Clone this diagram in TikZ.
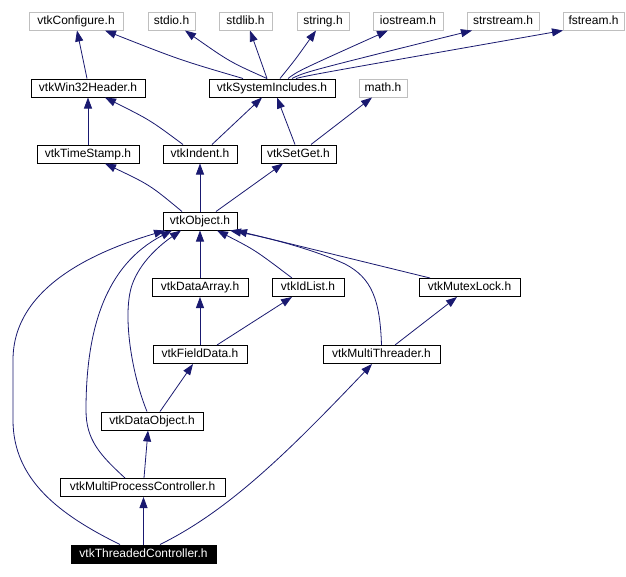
\documentclass[tikz,border=0pt]{standalone}
\usepackage{fontspec}
\setmainfont{Liberation Sans}
\usetikzlibrary{arrows.meta}
\definecolor{edgec}{HTML}{191970}
\definecolor{grayb}{HTML}{BFBFBF}
\tikzset{
 hdr/.style={draw=black, line width=1pt, fill=white, inner sep=0pt, font=\fontsize{12}{14}\selectfont, minimum height=18pt, text height=9pt, text depth=3pt},
 ext/.style={hdr, draw=grayb},
 cur/.style={hdr, fill=black, text=white},
 dep/.style={draw=edgec, line width=0.8pt, -{Triangle[length=11pt,width=8pt]}},
}
\begin{document}
\begin{tikzpicture}[x=1pt,y=-1pt]
\useasboundingbox[fill=white] (0,0) rectangle (626,576);
% nodes
\node[ext, minimum width=94pt] (conf) at (76,21) {vtkConfigure.h};
\node[ext, minimum width=47pt] (stdio) at (171.5,21) {stdio.h};
\node[ext, minimum width=53pt] (stdlib) at (245.5,21) {stdlib.h};
\node[ext, minimum width=52pt] (string) at (323,21) {string.h};
\node[ext, minimum width=70pt] (iostream) at (408,21) {iostream.h};
\node[ext, minimum width=72pt] (strstream) at (503,21) {strstream.h};
\node[ext, minimum width=61pt] (fstream) at (593.5,21) {fstream.h};
\node[hdr, minimum width=114pt] (win) at (88,88) {vtkWin32Header.h};
\node[hdr, minimum width=126pt] (sys) at (272,88) {vtkSystemIncludes.h};
\node[ext, minimum width=48pt] (math) at (383,88) {math.h};
\node[hdr, minimum width=102pt] (ts) at (88,154) {vtkTimeStamp.h};
\node[hdr, minimum width=74pt] (ind) at (200,154) {vtkIndent.h};
\node[hdr, minimum width=75pt] (sg) at (298.5,154) {vtkSetGet.h};
\node[hdr, minimum width=74pt] (obj) at (200,221) {vtkObject.h};
\node[hdr, minimum width=96pt] (da) at (200,287.5) {vtkDataArray.h};
\node[hdr, minimum width=72pt] (idl) at (308,287.5) {vtkIdList.h};
\node[hdr, minimum width=101pt] (mut) at (469.5,287.5) {vtkMutexLock.h};
\node[hdr, minimum width=94pt] (fd) at (200,354.5) {vtkFieldData.h};
\node[hdr, minimum width=117pt] (mt) at (381.5,354.5) {vtkMultiThreader.h};
\node[hdr, minimum width=102pt] (dob) at (152,421) {vtkDataObject.h};
\node[hdr, minimum width=165pt] (mpc) at (142.5,487.5) {vtkMultiProcessController.h};
\node[cur, minimum width=145pt] (tc) at (143.5,554) {vtkThreadedController.h};
% straight edges
\draw[dep] ([xshift=-1pt]win.north) -- ([xshift=1pt]conf.south);
\draw[dep] ([xshift=-29pt]sys.north) .. controls (180,60) .. ([xshift=29pt]conf.south);
\draw[dep] ([xshift=-5pt]sys.north) .. controls (230,62) .. ([xshift=13.5pt]stdio.south);
\draw[dep] ([xshift=-5pt]sys.north) -- ([xshift=4.5pt]stdlib.south);
\draw[dep] ([xshift=8pt]sys.north) .. controls (295,60) .. ([xshift=-7pt]string.south);
\draw[dep] ([xshift=16pt]sys.north) .. controls (298,71) .. ([xshift=-20pt]iostream.south);
\draw[dep] ([xshift=20pt]sys.north) .. controls (305,72) .. ([xshift=-31pt]strstream.south);
\draw[dep] ([xshift=24pt]sys.north) .. controls (310,75) .. ([xshift=-30.5pt]fstream.south);
\draw[dep] (ts.north) -- (ts.north |- win.south);
\draw[dep] ([xshift=-17pt]ind.north) .. controls (150,120) .. ([xshift=17pt]win.south);
\draw[dep] ([xshift=12pt]ind.north) -- ([xshift=-10pt]sys.south);
\draw[dep] ([xshift=-3.5pt]sg.north) -- ([xshift=5pt]sys.south);
\draw[dep] ([xshift=12.5pt]sg.north) -- ([xshift=-11pt]math.south);
\draw[dep] ([xshift=-18pt]obj.north) .. controls (150,185) .. ([xshift=17pt]ts.south);
\draw[dep] (obj.north) -- (ind.south);
\draw[dep] ([xshift=16pt]obj.north) -- ([xshift=-15.5pt]sg.south);
\draw[dep] (da.north) -- (obj.south);
\draw[dep] ([xshift=-16pt]idl.north) .. controls (255,250) .. ([xshift=17pt]obj.south);
\draw[dep] ([xshift=-39.5pt]mut.north) -- ([xshift=36pt]obj.south);
\draw[dep] (fd.north) -- (da.south);
\draw[dep] ([xshift=17pt]fd.north) -- ([xshift=-16pt]idl.south);
\draw[dep] ([xshift=8pt]dob.north) -- ([xshift=-7pt]fd.south);
\draw[dep] ([xshift=1.5pt]mpc.north) -- ([xshift=-4pt]dob.south);
\draw[dep] (tc.north) -- (tc.north |- mpc.south);
\draw[dep] ([xshift=13.5pt]mt.north) -- ([xshift=-12.5pt]mut.south);
% curved edges
\draw[dep] ([xshift=-23.5pt]tc.north) .. controls (60,515) and (13,480) .. (13,420) -- (13,360) .. controls (13,285) and (100,250) .. ([xshift=-35pt]obj.south);
\draw[dep] ([xshift=-17.5pt]mpc.north) .. controls (100,455) and (86,440) .. (86,410) .. controls (86,330) and (105,265) .. ([xshift=-28pt]obj.south);
\draw[dep] ([xshift=-5pt]dob.north) .. controls (132,375) and (122,315) .. (132,285) .. controls (140,262) and (160,245) .. ([xshift=-19pt]obj.south);
\draw[dep] (mt.north) .. controls (380,300) and (372,278) .. (345,264) .. controls (315,250) and (270,238) .. ([xshift=30pt]obj.south);
\draw[dep] ([xshift=16.5pt]tc.north) .. controls (230,510) and (290,450) .. ([xshift=-9.5pt]mt.south);
\end{tikzpicture}
\end{document}
